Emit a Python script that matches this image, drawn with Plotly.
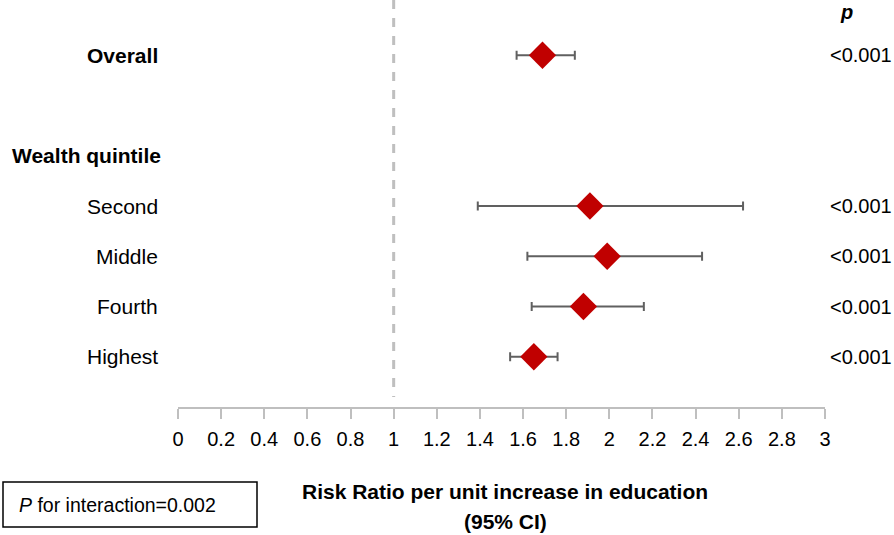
import plotly.graph_objects as go

labels = ["Overall", "Second", "Middle", "Fourth", "Highest"]
rr = [1.69, 1.91, 1.99, 1.88, 1.65]
lo = [1.57, 1.39, 1.62, 1.64, 1.54]
hi = [1.84, 2.62, 2.43, 2.16, 1.76]
pvals = ["<0.001", "<0.001", "<0.001", "<0.001", "<0.001"]
rows = [0, 3, 4, 5, 6]
header_label = "Wealth quintile"
header_row = 2
tickvals = [0, 0.2, 0.4, 0.6, 0.8, 1, 1.2, 1.4, 1.6, 1.8, 2, 2.2, 2.4, 2.6, 2.8, 3]
ticktext = ["0", "0.2", "0.4", "0.6", "0.8", "1", "1.2", "1.4", "1.6", "1.8", "2", "2.2", "2.4", "2.6", "2.8", "3"]

FONT = "Liberation Sans, Arial, sans-serif"
W, H = 894, 535
L, R, T, B = 178, 69, 0, 128
PW, PH = W - L - R, H - T - B


def px(xp):
    return (xp - L) / PW


def py(yp):
    return (H - B - yp) / PH


fig = go.Figure()
fig.add_trace(go.Scatter(
    x=rr, y=rows, mode="markers",
    marker=dict(symbol="diamond", size=21, color="#c00000"),
    error_x=dict(type="data", symmetric=False,
                 array=[h - r for h, r in zip(hi, rr)],
                 arrayminus=[r - l for r, l in zip(rr, lo)],
                 color="#606060", thickness=2, width=4.5),
    showlegend=False, hoverinfo="skip", cliponaxis=False,
))

fig.add_shape(type="line", x0=1, x1=1, y0=-1.1, y1=6.8, xref="x", yref="y",
              line=dict(color="#bfbfbf", width=3, dash="dash"))

for lab, r in zip(labels, rows):
    txt = "<b>%s</b>" % lab if lab == "Overall" else lab
    fig.add_annotation(x=0, y=r, xref="paper", yref="y", text=txt, showarrow=False,
                       xanchor="right", xshift=-18, font=dict(size=21, color="black", family=FONT))
fig.add_annotation(x=0, y=header_row, xref="paper", yref="y", text="<b>%s</b>" % header_label,
                   showarrow=False, xanchor="right", xshift=-15, font=dict(size=21, color="black", family=FONT))
for p, r in zip(pvals, rows):
    fig.add_annotation(x=1, y=r, xref="paper", yref="y", text=p, showarrow=False,
                       xanchor="left", xshift=3, font=dict(size=20, color="black", family=FONT))
fig.add_annotation(x=1, y=-0.86, xref="paper", yref="y", text="<b><i>p</i></b>", showarrow=False,
                   xanchor="left", xshift=13, font=dict(size=20, color="black", family=FONT))

# axis title lines
fig.add_annotation(x=px(505), y=py(491), xref="paper", yref="paper",
                   text="<b>Risk Ratio per unit increase in education</b>", showarrow=False,
                   xanchor="center", yanchor="middle", font=dict(size=21, color="black", family=FONT))
fig.add_annotation(x=px(505), y=py(521), xref="paper", yref="paper",
                   text="<b>(95% CI)</b>", showarrow=False,
                   xanchor="center", yanchor="middle", font=dict(size=21, color="black", family=FONT))

# interaction box
fig.add_annotation(x=px(117), y=py(505), xref="paper", yref="paper",
                   text="<i>P</i> for interaction=0.002", showarrow=False,
                   xanchor="center", yanchor="middle",
                   font=dict(size=19.5, color="black", family=FONT))
fig.add_shape(type="rect", xref="paper", yref="paper",
              x0=px(3), x1=px(257), y0=py(527), y1=py(482),
              line=dict(color="black", width=1.5), fillcolor="rgba(0,0,0,0)")

fig.update_layout(
    width=W, height=H,
    margin=dict(l=L, r=R, t=T, b=B),
    plot_bgcolor="white", paper_bgcolor="white",
    xaxis=dict(range=[0, 3], tickvals=tickvals, ticktext=ticktext, showgrid=False, zeroline=False,
               showline=True, linecolor="#bfbfbf", linewidth=2,
               ticks="outside", ticklen=10, tickwidth=2, tickcolor="#bfbfbf",
               ticklabelstandoff=3,
               tickfont=dict(size=20, color="black", family=FONT)),
    yaxis=dict(range=[7, -1.1], visible=False),
)

fig.write_html("out.html", config={"displayModeBar": False},
               post_script="document.body.style.margin='0px';document.body.style.padding='0px';")
